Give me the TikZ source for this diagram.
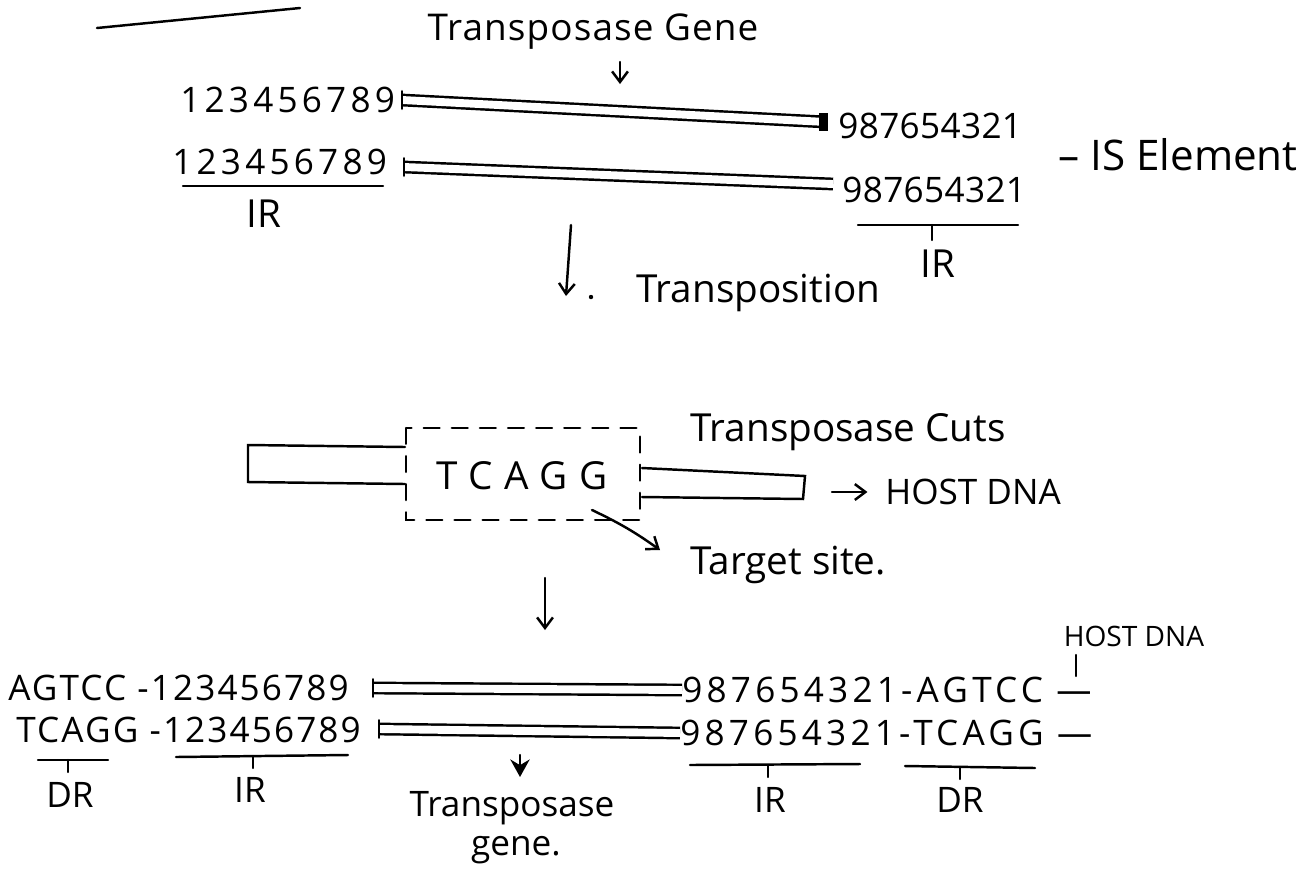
\documentclass[tikz,border=0pt]{standalone}
\usepackage{fontspec}
\setmainfont{Open Sans}
\usetikzlibrary{arrows.meta}
\begin{document}
\begin{tikzpicture}[x=0.02cm,y=-0.02cm,
  txt/.style={font=\fontsize{20}{24}\selectfont, inner sep=0pt},
  num/.style={txt, font=\fontsize{20}{24}\selectfont\addfontfeature{LetterSpace=12}},
  numr/.style={txt, font=\fontsize{20}{24}\selectfont\addfontfeature{LetterSpace=1}},
  seq/.style={txt, font=\fontsize{20}{24}\selectfont\addfontfeature{LetterSpace=6}},
  seqr/.style={txt, font=\fontsize{20}{24}\selectfont\addfontfeature{LetterSpace=12}},
  pen/.style={line width=1.4pt, line cap=round},
  dbl/.style={line width=1.4pt, line cap=butt, double, double distance=4.5pt},
  arr/.style={pen, -{Straight Barb[length=6pt,width=9pt]}},
  bar/.style={pen}]
\useasboundingbox (0,0) rectangle (1299,870);

% stray top-left line
\coordinate (s1) at (97,28);
\coordinate (s2) at (300,8);
\draw[pen] (s1) -- (s2);

% top section
\node[txt, font=\fontsize{21}{25}\selectfont\addfontfeature{LetterSpace=3}] (tgene) at (593,32) {Transposase Gene};
\coordinate (tga) at (620,62);
\coordinate (tgb) at (620,84);
\draw[arr] (tga) -- (tgb);

\node[num, anchor=west] (l1) at (180,100) {123456789};
\node[numr, anchor=west] (r1) at (838,126) {987654321};
\node[num, anchor=west] (l2) at (172,162) {123456789};
\node[numr, anchor=west] (r2) at (842,190) {987654321};
\coordinate (a1) at (402,100);
\coordinate (b1) at (826,122);
\coordinate (a2) at (404,167);
\coordinate (b2) at (833,184);
\draw[dbl] (a1) -- (b1);
\draw[dbl] (a2) -- (b2);
\draw[pen] ([yshift=5pt]a1) -- ([yshift=-5pt]a1);
\draw[pen] ([yshift=5pt]a2) -- ([yshift=-5pt]a2);
\fill ([xshift=-4pt,yshift=-5pt]b1) rectangle ([xshift=1pt,yshift=5pt]b1);

\node[txt, font=\fontsize{24}{28}\selectfont, anchor=west] (is) at (1058,155) {– IS Element};

\coordinate (u1a) at (183,186);
\coordinate (u1b) at (383,186);
\draw[bar] (u1a) -- (u1b);
\node[txt, font=\fontsize{22}{26}\selectfont] (ir1) at (264,214) {IR};

\coordinate (u2a) at (858,225);
\coordinate (u2b) at (1018,225);
\coordinate (u2m) at (932,225);
\coordinate (u2t) at (932,240);
\draw[bar] (u2a) -- (u2b);
\draw[bar] (u2m) -- (u2t);
\node[txt, font=\fontsize{22}{26}\selectfont] (ir2) at (938,264) {IR};

% transposition arrow
\coordinate (ta) at (571,225);
\coordinate (tb) at (566,296);
\draw[arr] (ta) -- (tb);
\fill (591,297) circle (2.2);
\node[txt, anchor=west, font=\fontsize{22}{26}\selectfont] (trp) at (636,293) {Transposition};

% middle section
\node[txt, font=\fontsize{22}{26}\selectfont\addfontfeature{LetterSpace=30}] (tcagg) at (522,476) {TCAGG};
\draw[pen, dashed, dash pattern=on 9pt off 7pt] (406,428) rectangle (640,520);
\draw[pen] (405,447) -- (248,445) -- (248,482) -- (405,484);
\draw[pen] (642,468) -- (805,476) -- (803,499) -- (642,497);
\node[txt, anchor=west, font=\fontsize{22}{26}\selectfont] (cuts) at (690,432) {Transposase Cuts};
\node[txt, anchor=west] (host1) at (885,492) {HOST DNA};
\coordinate (ha) at (832,492);
\draw[arr] (ha) -- ([xshift=-10pt]host1.west);
\node[txt, anchor=west, font=\fontsize{22}{26}\selectfont] (tsite) at (690,565) {Target site.};
\coordinate (tsa) at (592,510);
\coordinate (tsb) at (660,550);
\draw[arr] (tsa) to[bend left=5] (tsb);

\coordinate (da) at (545,578);
\coordinate (db) at (545,630);
\draw[arr] (da) -- (db);

% bottom section
\node[seq, anchor=west] (b1l) at (8,688) {AGTCC -123456789};
\node[seqr, anchor=west] (b1r) at (682,690) {987654321-AGTCC —};
\node[seq, anchor=west] (b2l) at (16,730) {TCAGG -123456789};
\node[seqr, anchor=west] (b2r) at (680,733) {987654321-TCAGG —};
\coordinate (c1) at (373,688);
\coordinate (c2) at (379,729);
\draw[dbl] (c1) -- (b1r.west);
\draw[dbl] (c2) -- (b2r.west);
\draw[pen] ([yshift=5pt]c1) -- ([yshift=-5pt]c1);
\draw[pen] ([yshift=5pt]c2) -- ([yshift=-5pt]c2);

\node[txt, font=\fontsize{16}{20}\selectfont] (host2) at (1134,636) {HOST DNA};
\coordinate (hta) at (1076,655);
\coordinate (htb) at (1076,676);
\draw[bar] (hta) -- (htb);

\coordinate (d1a) at (38,760);
\coordinate (d1b) at (108,760);
\coordinate (d1m) at (68,760);
\coordinate (d1t) at (68,772);
\draw[bar] (d1a) -- (d1b);
\draw[bar] (d1m) -- (d1t);
\node[txt] (dr1) at (70,795) {DR};

\coordinate (i1a) at (176,757);
\coordinate (i1b) at (348,755);
\coordinate (i1m) at (253,756);
\coordinate (i1t) at (253,768);
\draw[bar] (i1a) -- (i1b);
\draw[bar] (i1m) -- (i1t);
\node[txt] (ir3) at (250,790) {IR};

\coordinate (i2a) at (690,765);
\coordinate (i2b) at (860,764);
\coordinate (i2m) at (768,765);
\coordinate (i2t) at (768,777);
\draw[bar] (i2a) -- (i2b);
\draw[bar] (i2m) -- (i2t);
\node[txt] (ir4) at (770,800) {IR};

\coordinate (d2a) at (905,766);
\coordinate (d2b) at (1035,768);
\coordinate (d2m) at (960,767);
\coordinate (d2t) at (960,779);
\draw[bar] (d2a) -- (d2b);
\draw[bar] (d2m) -- (d2t);
\node[txt] (dr2) at (960,800) {DR};

\coordinate (ga) at (520,755);
\coordinate (gb) at (520,777);
\node[txt, font=\fontsize{20}{24}\selectfont] (tgene2) at (512,808) {Transposase};
\node[txt, font=\fontsize{20}{24}\selectfont] (gene2) at (516,850) {gene.};
\draw[pen, -{Stealth[length=10pt,width=11pt]}] (ga) -- (gb);
\end{tikzpicture}
\end{document}
